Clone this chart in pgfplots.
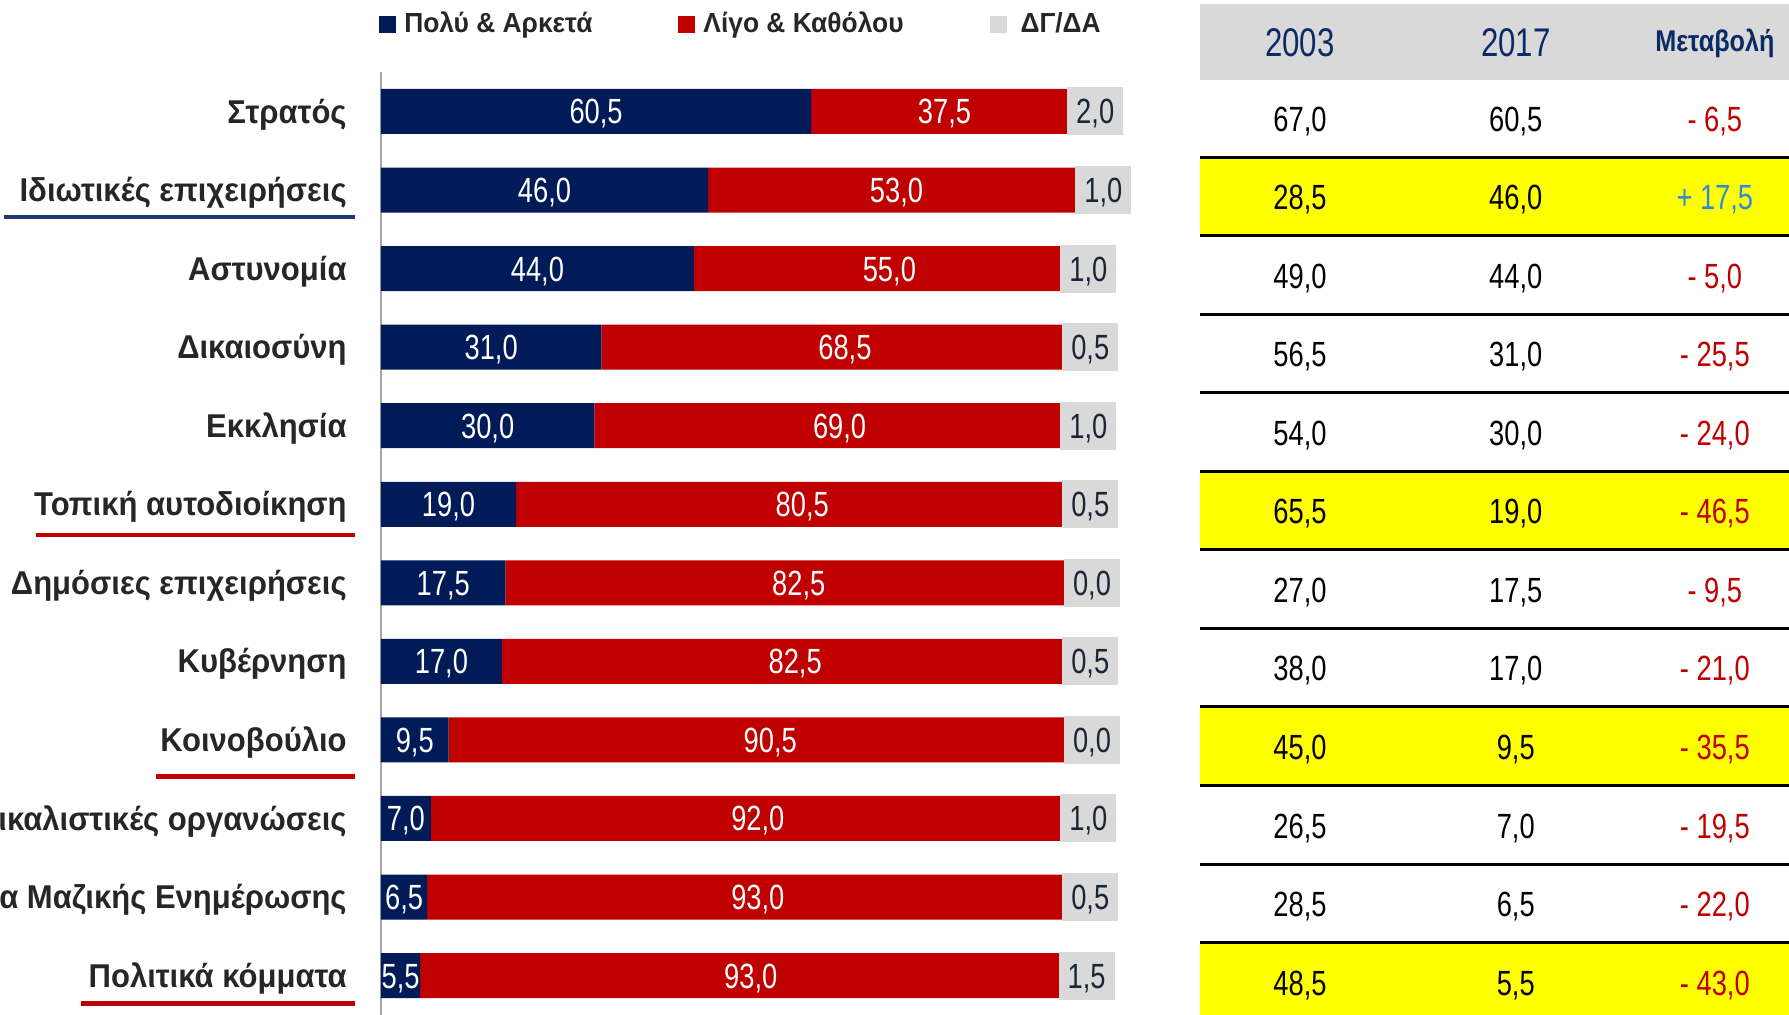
\documentclass[border=0pt]{standalone}
\usepackage{pgfplots}
\pgfplotsset{compat=1.18}
\usepackage{pgfplotstable}
\usepackage{fontspec}
\setmainfont{Liberation Sans}
\newfontfamily\labfont[FakeStretch=0.94]{Liberation Sans}
\newfontfamily\numfont[FakeStretch=0.78]{Liberation Sans}
\newfontfamily\legfont[FakeStretch=0.955]{Liberation Sans}
\newfontfamily\hdfont[FakeStretch=0.84]{Liberation Sans}
\definecolor{navy}{HTML}{001B57}
\definecolor{bred}{HTML}{C00000}
\definecolor{lgray}{HTML}{D9D9D9}
\definecolor{axgray}{HTML}{A6A6A6}
\definecolor{labgray}{HTML}{262626}
\definecolor{boxtext}{HTML}{1B2535}
\definecolor{hdblue}{HTML}{0B2B66}
\definecolor{posblue}{HTML}{2E8BD6}
\definecolor{ulnavy}{HTML}{1F3A78}
\definecolor{hiyellow}{HTML}{FFFF00}

\newcommand\sq[1]{\textcolor{#1}{\rule{8.5pt}{8.5pt}}}

\newsavebox\ulbox
\newcommand\ulab[4]{%
  \sbox\ulbox{#4}%
  \rlap{\kern-#3\textcolor{#1}{\rule[-#2]{\dimexpr\wd\ulbox+#3+4pt\relax}{2.2pt}}}%
  \usebox\ulbox}

% a, b, c: the three shares; gx: shift of the grey value box
\pgfplotstableread{
y a b c t03 t17 d gx
0 60.5 37.5 2.0 67.0 60.5 -6.5 1.45
1 46.0 53.0 1.0 28.5 46.0 17.5 2.1
2 44.0 55.0 1.0 49.0 44.0 -5.0 0
3 31.0 68.5 0.5 56.5 31.0 -25.5 0
4 30.0 69.0 1.0 54.0 30.0 -24.0 0
5 19.0 80.5 0.5 65.5 19.0 -46.5 0
6 17.5 82.5 0.0 27.0 17.5 -9.5 0
7 17.0 82.5 0.5 38.0 17.0 -21.0 0
8 9.5 90.5 0.0 45.0 9.5 -35.5 0
9 7.0 92.0 1.0 26.5 7.0 -19.5 0
10 6.5 93.0 0.5 28.5 6.5 -22.0 0
11 5.5 93.0 1.5 48.5 5.5 -43.0 0
}\data

\begin{document}
\begin{tikzpicture}
\path[use as bounding box] (0,0) rectangle (894.5pt,-507pt);

\begin{axis}[
  at={(190.5pt,-36.1pt)}, anchor=north west,
  scale only axis, width=355.5pt, height=471.3pt,
  xmin=0, xmax=100, ymin=-0.5, ymax=11.5, y dir=reverse,
  enlargelimits=false,
  xbar stacked, bar width=22.5pt,
  axis x line=none, axis y line*=left,
  axis line style={axgray, line width=1pt},
  xtick=\empty,
  ytick={0,...,11},
  yticklabels={Στρατός,
    \ulab{ulnavy}{8.9pt}{8pt}{Ιδιωτικές επιχειρήσεις},
    Αστυνομία, Δικαιοσύνη, Εκκλησία,
    \ulab{bred}{10.6pt}{-1pt}{Τοπική αυτοδιοίκηση},
    Δημόσιες επιχειρήσεις, Κυβέρνηση,
    \ulab{bred}{13.6pt}{2pt}{Κοινοβούλιο},
    Συνδικαλιστικές οργανώσεις, Μέσα Μαζικής Ενημέρωσης,
    \ulab{bred}{9.3pt}{4pt}{Πολιτικά κόμματα}},
  major tick length=0pt,
  yticklabel style={font=\labfont\bfseries\fontsize{16.5}{18}\selectfont, text=labgray, anchor=base east, inner sep=0pt, xshift=-17pt, yshift=-5.8pt},
  clip=false,
]
\addplot[fill=navy, draw=none] table[x=a, y=y]{\data};
\addplot[fill=bred, draw=none] table[x=b, y=y]{\data};
\addplot[fill=lgray, draw=none] table[x=c, y=y]{\data};
\end{axis}

\begin{axis}[
  at={(190.5pt,-36.1pt)}, anchor=north west,
  scale only axis, width=355.5pt, height=471.3pt,
  xmin=0, xmax=100, ymin=-0.5, ymax=11.5, y dir=reverse,
  enlargelimits=false, axis lines=none, ticks=none, clip=false,
  /pgf/number format/.cd, fixed, fixed zerofill, precision=1, use comma, assume math mode=true, /pgfplots/.cd,
  legend style={at={(-0.003,1.0511)}, anchor=west, draw=none, fill=none, inner sep=0pt,
    legend columns=3, font=\legfont\bfseries\fontsize{13.8}{16}\selectfont, text=labgray,
    /tikz/every even column/.append style={column sep=43pt},
    /tikz/every odd column/.append style={column sep=0pt},
    nodes={inner sep=0pt}},
  numstyle/.style={forget plot, every node near coord/.append style={anchor=center, text height=12.5pt, text depth=0pt, inner sep=0pt, font=\numfont\fontsize{17.5}{20}\selectfont}},
]
% table backgrounds
\fill[lgray] (axis cs:115.2,-1.37) rectangle (axis cs:200,-0.40);
\fill[hiyellow] (axis cs:115.2,0.58) rectangle (axis cs:200,1.58);
\fill[hiyellow] (axis cs:115.2,4.58) rectangle (axis cs:200,5.58);
\fill[hiyellow] (axis cs:115.2,7.58) rectangle (axis cs:200,8.58);
\fill[hiyellow] (axis cs:115.2,10.58) rectangle (axis cs:200,11.8);
\draw[black, line width=1.5pt] (axis cs:115.2,0.58) -- (axis cs:200,0.58);
\draw[black, line width=1.5pt] (axis cs:115.2,1.58) -- (axis cs:200,1.58);
\draw[black, line width=1.5pt] (axis cs:115.2,2.58) -- (axis cs:200,2.58);
\draw[black, line width=1.5pt] (axis cs:115.2,3.58) -- (axis cs:200,3.58);
\draw[black, line width=1.5pt] (axis cs:115.2,4.58) -- (axis cs:200,4.58);
\draw[black, line width=1.5pt] (axis cs:115.2,5.58) -- (axis cs:200,5.58);
\draw[black, line width=1.5pt] (axis cs:115.2,6.58) -- (axis cs:200,6.58);
\draw[black, line width=1.5pt] (axis cs:115.2,7.58) -- (axis cs:200,7.58);
\draw[black, line width=1.5pt] (axis cs:115.2,8.58) -- (axis cs:200,8.58);
\draw[black, line width=1.5pt] (axis cs:115.2,9.58) -- (axis cs:200,9.58);
\draw[black, line width=1.5pt] (axis cs:115.2,10.58) -- (axis cs:200,10.58);
\node[font=\numfont\fontsize{20}{22}\selectfont, text=hdblue] at (axis cs:129.25,-0.87) {2003};
\node[font=\numfont\fontsize{20}{22}\selectfont, text=hdblue] at (axis cs:159.6,-0.87) {2017};
\node[font=\hdfont\bfseries\fontsize{15}{17}\selectfont, text=hdblue] at (axis cs:187.6,-0.87) {Μεταβολή};

% bar labels
\addplot[draw=none, mark=none, numstyle, nodes near coords, point meta=explicit,
  every node near coord/.append style={text=white}]
  table[x expr=\thisrow{a}/2, y=y, meta=a]{\data};
\addplot[draw=none, mark=none, numstyle, nodes near coords, point meta=explicit,
  every node near coord/.append style={text=white}]
  table[x expr=\thisrow{a}+\thisrow{b}/2, y=y, meta=b]{\data};
\addplot[draw=none, mark=none, numstyle, nodes near coords, point meta=explicit,
  every node near coord/.append style={text=boxtext, fill=lgray, minimum width=28pt, minimum height=24pt}]
  table[x expr=\thisrow{a}+\thisrow{b}+\thisrow{c}/2+\thisrow{gx}, y=y, meta=c]{\data};

% table values
\addplot[draw=none, mark=none, numstyle, nodes near coords, point meta=explicit,
  every node near coord/.append style={text=black}]
  table[x expr=129.25, y expr=\thisrow{y}+0.09, meta=t03]{\data};
\addplot[draw=none, mark=none, numstyle, nodes near coords, point meta=explicit,
  every node near coord/.append style={text=black}]
  table[x expr=159.6, y expr=\thisrow{y}+0.09, meta=t17]{\data};
\addplot[draw=none, mark=none, numstyle,
  nodes near coords={-~\pgfmathprintnumber{\pgfplotspointmeta}},
  point meta={-\thisrow{d}},
  restrict expr to domain={\thisrow{d}}{-1000:0},
  every node near coord/.append style={text=bred}]
  table[x expr=187.6, y expr=\thisrow{y}+0.09]{\data};
\addplot[draw=none, mark=none, numstyle,
  nodes near coords={+~\pgfmathprintnumber{\pgfplotspointmeta}},
  point meta={\thisrow{d}},
  restrict expr to domain={\thisrow{d}}{0:1000},
  every node near coord/.append style={text=posblue}]
  table[x expr=187.6, y expr=\thisrow{y}+0.09]{\data};

\addlegendimage{empty legend}
\addlegendentry{\sq{navy}\hspace{4pt}Πολύ \& Αρκετά}
\addlegendimage{empty legend}
\addlegendentry{\sq{bred}\hspace{4pt}Λίγο \& Καθόλου}
\addlegendimage{empty legend}
\addlegendentry{\sq{lgray}\hspace{7pt}ΔΓ/ΔΑ}
\end{axis}
\end{tikzpicture}
\end{document}
